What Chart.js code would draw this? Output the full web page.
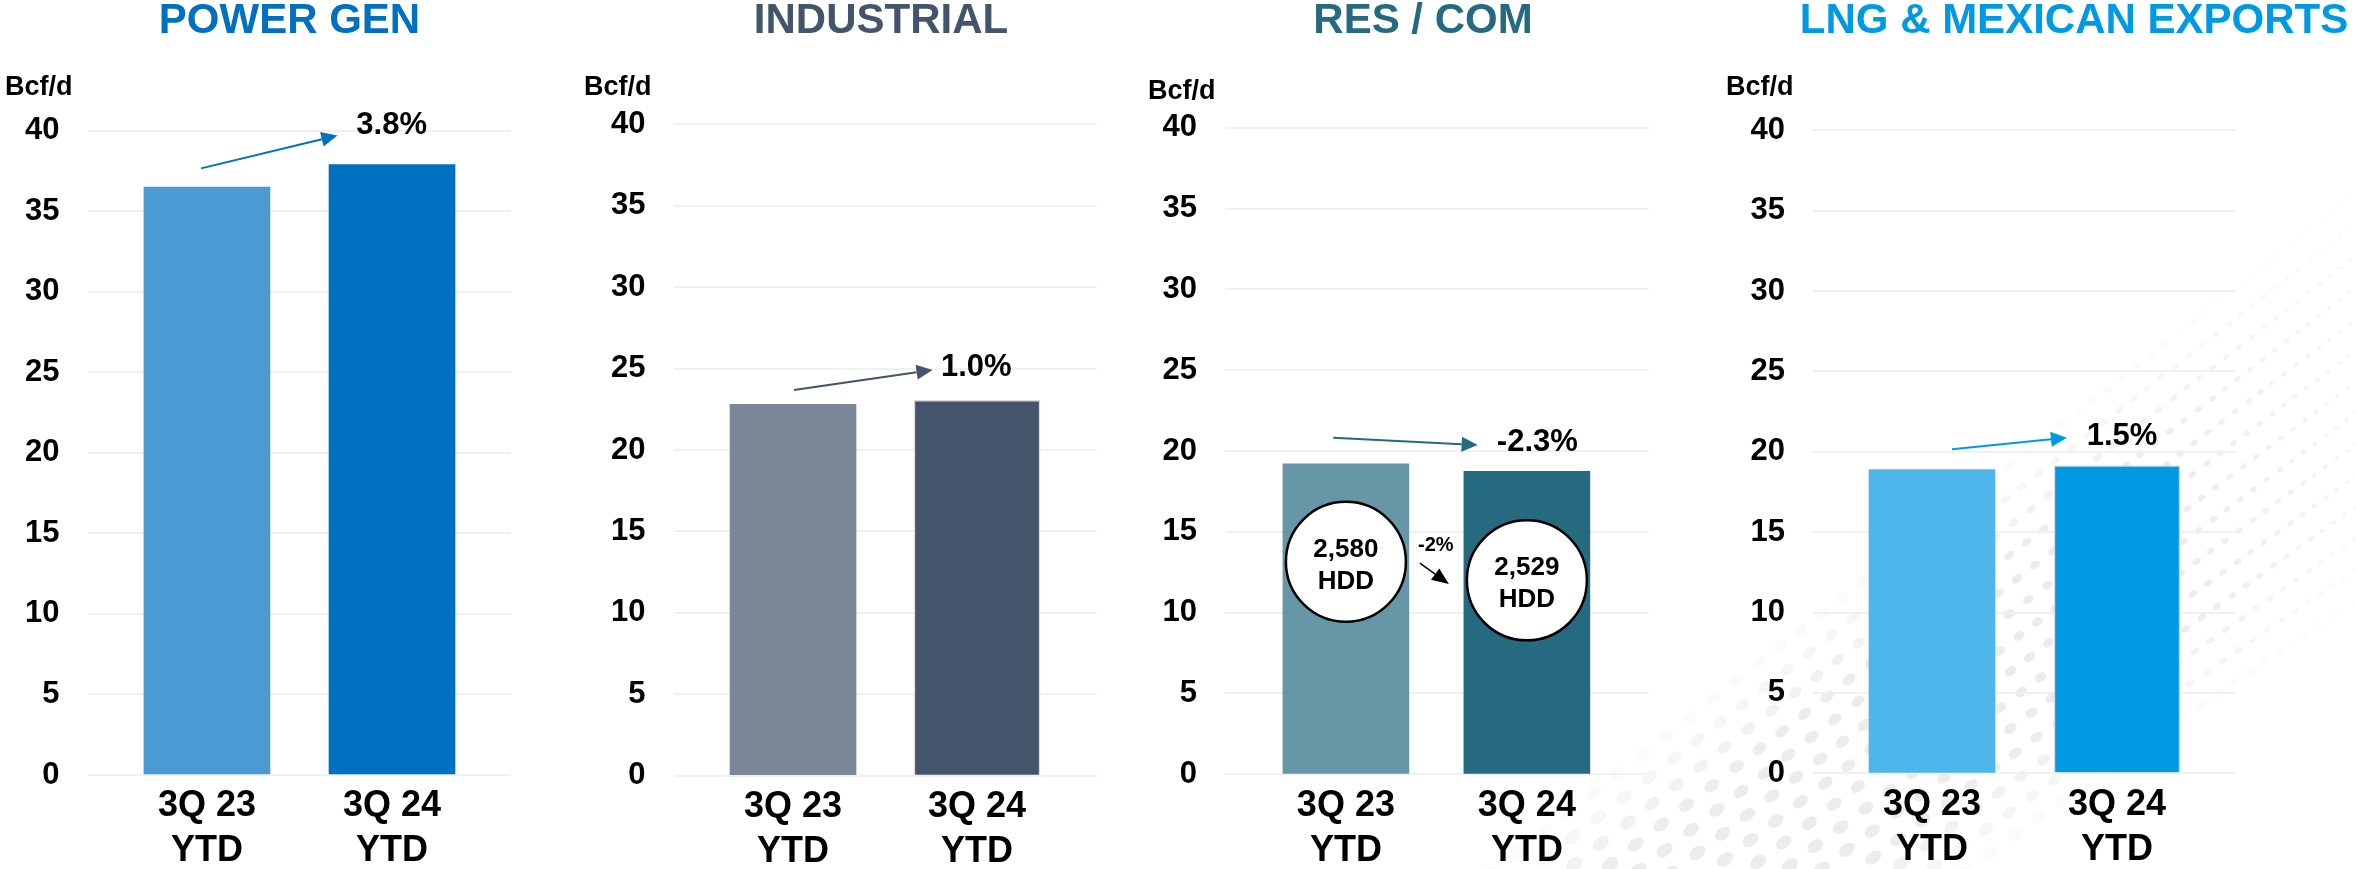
<!DOCTYPE html>
<html>
<head>
<meta charset="utf-8">
<script src="https://cdn.jsdelivr.net/npm/chart.js@4.4.1/dist/chart.umd.min.js"></script>
<style>
html,body{margin:0;padding:0;background:#fff;}
#wrap{position:relative;width:2356px;height:869px;overflow:hidden;background:#fff;}
#wrap canvas{position:absolute;top:0;}
</style>
</head>
<body>
<div id="wrap">
  <canvas id="bg" width="2356" height="869" style="left:0px"></canvas>
  <canvas id="c0" width="560" height="869" style="left:0px"></canvas>
  <canvas id="c1" width="560" height="869" style="left:560px"></canvas>
  <canvas id="c2" width="560" height="869" style="left:1120px"></canvas>
  <canvas id="c3" width="676" height="869" style="left:1680px"></canvas>
</div>
<script>
// data (Bcf/d)
const categories=[["3Q 23","YTD"],["3Q 24","YTD"]];
const panelTitles=["POWER GEN","INDUSTRIAL","RES / COM","LNG & MEXICAN EXPORTS"];
const powerGen=[36.5,37.9];
const industrial=[22.8,23.05];
const resCom=[19.2,18.75];
const lngMex=[18.9,19.15];
const changeLabels=["3.8%","1.0%","-2.3%","1.5%"];
const hddLabels=["2,580","2,529"];
const hddChange="-2%";
const yTicks=[0,5,10,15,20,25,30,35,40];
const unitLabel="Bcf/d";

const FONT='"Liberation Sans", Arial, Helvetica, sans-serif';

// per panel look + placement
const panels=[
 {id:"c0",values:powerGen,color:"#0070C0",light:"#4C9AD3",border:[0,0],
  axisW:87.6,padR:49,top:130.7,bottom:775,xMin:-0.645,xMax:1.643,
  titleX:289.5,unitX:5,unitY:88,arrow:[-0.032,37.66,0.705,39.7],labelAt:[0.807,40.3]},
 {id:"c1",values:industrial,color:"#44546A",light:"#7B8797",border:[0,1.5],
  axisW:113.6,padR:23.2,top:124.3,bottom:775.7,xMin:-0.649,xMax:1.651,
  titleX:321,unitX:24,unitY:88,arrow:[0.005,23.69,0.758,24.92],labelAt:[0.804,25.04]},
 {id:"c2",values:resCom,color:"#266A80",light:"#6797A6",border:[0,0],
  axisW:105,padR:31.5,top:127.7,bottom:774.3,xMin:-0.668,xMax:1.672,
  titleX:303,unitX:28,unitY:92,arrow:[-0.07,20.82,0.728,20.37],labelAt:[0.834,20.51],
  hdd:{circleY:[13.15,12.0],textAt:[0.497,14.18],arrow:[0.409,13.07,0.569,11.77]}},
 {id:"c3",values:lngMex,color:"#0099E3",light:"#4DB6EB",border:[0,1.5],
  axisW:133,padR:120,top:130.3,bottom:773.3,xMin:-0.643,xMax:1.643,
  titleX:394,unitX:46,unitY:87.5,arrow:[0.108,20.16,0.729,20.88],labelAt:[0.836,20.93]}
];

// faint dotted swoosh in the lower right corner (slide decoration)
function drawBackdrop(){
  const ctx=document.getElementById("bg").getContext("2d");
  const up=[[2420,110],[2020,430],[1420,900]], lo=[[2420,590],[2200,730],[1960,900]];
  const bez=(P,t)=>[(1-t)*(1-t)*P[0][0]+2*(1-t)*t*P[1][0]+t*t*P[2][0],
                    (1-t)*(1-t)*P[0][1]+2*(1-t)*t*P[1][1]+t*t*P[2][1]];
  const rows=15;
  ctx.fillStyle="#E6E6E6";
  for(let r=1;r<rows;r++){
    const s=r/rows;
    const P=up.map((u,k)=>[u[0]+(lo[k][0]-u[0])*s,u[1]+(lo[k][1]-u[1])*s]);
    let last=null, acc=0, prev=bez(P,0);
    for(let t=0;t<=1;t+=0.002){
      const q=bez(P,t);
      acc+=Math.hypot(q[0]-prev[0],q[1]-prev[1]);
      const gap=9+24*t;
      if(last===null||acc>=gap){
        acc=0; last=q;
        const ang=Math.atan2(q[1]-prev[1],q[0]-prev[0]);
        const a=1.5+8*t, b=1+5.5*t;
        ctx.globalAlpha=Math.min(1,s*3.5)*Math.min(1,(1-s)*3.5)*Math.min(1,0.25+t*2)*0.75;
        ctx.beginPath(); ctx.ellipse(q[0],q[1],a,b,ang,0,Math.PI*2); ctx.fill();
      }
      prev=q;
    }
  }
  ctx.globalAlpha=1;
}
drawBackdrop();

function drawArrow(ctx,x0,y0,x1,y1,color,lw,hl,hw){
  const ang=Math.atan2(y1-y0,x1-x0);
  const bx=x1-Math.cos(ang)*hl, by=y1-Math.sin(ang)*hl;
  ctx.strokeStyle=color; ctx.fillStyle=color; ctx.lineWidth=lw;
  ctx.beginPath(); ctx.moveTo(x0,y0); ctx.lineTo(bx,by); ctx.stroke();
  ctx.beginPath(); ctx.moveTo(x1,y1);
  ctx.lineTo(bx+Math.sin(ang)*hw,by-Math.cos(ang)*hw);
  ctx.lineTo(bx-Math.sin(ang)*hw,by+Math.cos(ang)*hw);
  ctx.closePath(); ctx.fill();
}

const annotPlugin={
  id:"annot",
  afterDatasetsDraw(chart,args,o){
    const ctx=chart.ctx, xs=chart.scales.x, ys=chart.scales.y, p=o.panel, i=o.index;
    const px=v=>xs.getPixelForValue(v), py=v=>ys.getPixelForValue(v);
    ctx.save();
    ctx.textBaseline="middle";
    // title
    ctx.font="bold 42px "+FONT; ctx.fillStyle=p.color; ctx.textAlign="center";
    ctx.fillText(panelTitles[i],p.titleX,21.5);
    // unit
    ctx.font="bold 27px "+FONT; ctx.fillStyle="#000"; ctx.textAlign="left";
    ctx.fillText(unitLabel,p.unitX,p.unitY);
    // change arrow + label
    const a=p.arrow;
    drawArrow(ctx,px(a[0]),py(a[1]),px(a[2]),py(a[3]),p.color,2,16,7.5);
    ctx.font="bold 31px "+FONT; ctx.fillStyle="#000"; ctx.textAlign="left";
    ctx.fillText(changeLabels[i],px(p.labelAt[0]),py(p.labelAt[1]));
    // HDD bubbles
    if(p.hdd){
      hddLabels.forEach((t,k)=>{
        const cx=px(k), cy=py(p.hdd.circleY[k]);
        ctx.beginPath(); ctx.arc(cx,cy,60,0,Math.PI*2);
        ctx.fillStyle="#fff"; ctx.fill();
        ctx.lineWidth=2.5; ctx.strokeStyle="#000"; ctx.stroke();
        ctx.fillStyle="#000"; ctx.textAlign="center"; ctx.font="bold 26px "+FONT;
        ctx.fillText(t,cx,cy-12);
        ctx.fillText("HDD",cx,cy+20);
      });
      ctx.font="bold 20px "+FONT; ctx.textAlign="center"; ctx.fillStyle="#000";
      ctx.fillText(hddChange,px(p.hdd.textAt[0]),py(p.hdd.textAt[1]));
      const b=p.hdd.arrow;
      drawArrow(ctx,px(b[0]),py(b[1]),px(b[2]),py(b[3]),"#000",1.5,17,7);
    }
    ctx.restore();
  }
};

panels.forEach((p,i)=>{
  const canvas=document.getElementById(p.id);
  new Chart(canvas,{
    type:"bar",
    data:{datasets:[{
      data:p.values.map((v,k)=>({x:k,y:v})),
      backgroundColor:[p.light,p.color],
      borderColor:"#D9D9D9",
      borderWidth:p.border,
      borderSkipped:"bottom",
      barThickness:126
    }]},
    options:{
      responsive:false,
      animation:false,
      layout:{padding:{top:p.top,right:p.padR,left:0,bottom:0}},
      plugins:{legend:{display:false},tooltip:{enabled:false},annot:{panel:p,index:i}},
      scales:{
        x:{
          type:"linear",min:p.xMin,max:p.xMax,offset:false,
          grid:{display:false,drawTicks:false},border:{display:false},
          afterBuildTicks:ax=>{ax.ticks=categories.map((c,k)=>({value:k}));},
          afterFit:ax=>{ax.height=869-p.bottom;},
          ticks:{
            autoSkip:false,maxRotation:0,padding:9,color:"#000",
            font:{family:FONT,size:36,weight:"bold",lineHeight:1.25},
            callback:v=>categories[v]
          }
        },
        y:{
          min:0,max:40,
          grid:{color:"#F0F0F0",lineWidth:2,drawTicks:false},
          border:{display:false},
          afterBuildTicks:ax=>{ax.ticks=yTicks.map(v=>({value:v}));},
          afterFit:ax=>{ax.width=p.axisW;},
          ticks:{padding:28,color:"#000",font:{family:FONT,size:31,weight:"bold"}}
        }
      }
    },
    plugins:[annotPlugin]
  });
});
</script>
</body>
</html>
